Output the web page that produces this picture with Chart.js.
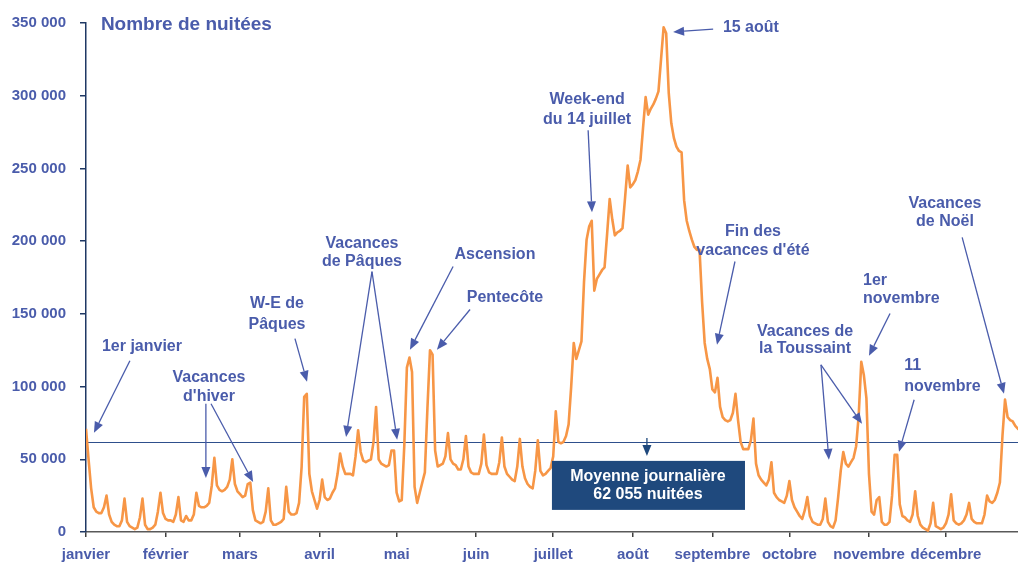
<!DOCTYPE html>
<html lang="fr">
<head>
<meta charset="utf-8">
<title>Nombre de nuitées</title>
<script src="https://cdn.jsdelivr.net/npm/chart.js@4.4.1/dist/chart.umd.min.js"></script>
<style>
  html, body { margin: 0; padding: 0; overflow: hidden; background: #fff; }
  #wrap { width: 1018px; height: 562px; overflow: hidden; }
</style>
</head>
<body>
<div id="wrap"><canvas id="chart" width="1030" height="562"></canvas></div>
<script>
// month labels and the day index (2016, leap year) where each month starts
const monthNames = ['janvier', 'février', 'mars', 'avril', 'mai', 'juin', 'juillet', 'août', 'septembre', 'octobre', 'novembre', 'décembre'];
const monthStarts = [0, 31, 60, 91, 121, 152, 182, 213, 244, 274, 305, 335];

// daily nuitées, one value per day
const janvier = [71000, 50000, 30000, 17000, 14000, 13000, 13000, 17000, 25000, 12000, 7000, 5000, 4000, 4000, 8000, 23000, 7000, 4000, 3000, 2000, 3000, 10000, 23000, 5000, 2000, 2000, 3000, 5000, 14000, 27000, 13000];
const fevrier = [9000, 8000, 8000, 7000, 12000, 24000, 8000, 7000, 11000, 8000, 8000, 12000, 27000, 18000, 17000, 17000, 18000, 20000, 32000, 51000, 32000, 29000, 28000, 29000, 31000, 36000, 50000, 33000, 28000];
const mars = [26000, 24000, 25000, 33000, 34000, 15000, 8000, 7000, 6000, 7000, 14000, 30000, 8000, 5000, 5000, 6000, 7000, 9000, 31000, 14000, 12000, 12000, 13000, 20000, 45000, 93000, 95000, 40000, 28000, 22000, 16000];
const avril = [22000, 36000, 24000, 22000, 23000, 27000, 30000, 40000, 54000, 45000, 40000, 40000, 40000, 39000, 52000, 70000, 55000, 49000, 48000, 49000, 50000, 62000, 86000, 50000, 47000, 46000, 45000, 46000, 56000, 56000];
const mai = [27000, 21000, 22000, 60000, 113000, 120000, 110000, 31000, 20000, 27000, 34000, 41000, 85000, 125000, 122000, 56000, 45000, 46000, 47000, 52000, 68000, 50000, 47000, 46000, 43000, 43000, 50000, 66000, 45000, 41000, 40000];
const juin = [40000, 40000, 47000, 67000, 46000, 41000, 40000, 40000, 40000, 48000, 65000, 45000, 40000, 38000, 36000, 35000, 45000, 64000, 45000, 37000, 33000, 31000, 30000, 42000, 63000, 42000, 39000, 40000, 42000, 44000];
const juillet = [52000, 83000, 62000, 61000, 62000, 66000, 74000, 100000, 130000, 119000, 125000, 131000, 172000, 201000, 210000, 214000, 166000, 174000, 177000, 180000, 182000, 205000, 229000, 215000, 204000, 206000, 207000, 209000, 230000, 252000, 237000];
const aout = [239000, 242000, 248000, 256000, 278000, 299000, 287000, 291000, 294000, 298000, 303000, 325000, 347000, 343000, 302000, 281000, 271000, 265000, 262000, 261000, 228000, 214000, 207000, 201000, 196000, 194000, 194000, 158000, 130000, 119000, 112000];
const septembre = [98000, 96000, 106000, 86000, 79000, 77000, 76000, 77000, 82000, 95000, 77000, 62000, 57000, 57000, 57000, 63000, 78000, 47000, 39000, 36000, 34000, 32000, 36000, 48000, 27000, 24000, 22000, 21000, 20000, 25000];
const octobre = [35000, 22000, 17000, 14000, 11000, 9000, 15000, 24000, 11000, 7000, 6000, 5000, 5000, 9000, 23000, 7000, 4000, 3000, 8000, 24000, 42000, 55000, 47000, 45000, 48000, 51000, 59000, 80000, 117000, 108000, 92000];
const novembre = [40000, 14000, 12000, 22000, 24000, 7000, 5000, 5000, 7000, 25000, 53000, 53000, 19000, 11000, 10000, 8000, 7000, 12000, 28000, 11000, 5000, 3000, 2000, 1000, 6000, 20000, 4000, 3000, 2000, 3000];
const decembre = [6000, 12000, 26000, 8000, 6000, 5000, 6000, 8000, 12000, 20000, 9000, 7000, 6000, 6000, 6000, 12000, 25000, 21000, 20000, 22000, 27000, 34000, 66000, 91000, 79000, 77000, 76000, 73000, 71000, 70000, 68000];

const nuitees = [].concat(janvier, fevrier, mars, avril, mai, juin, juillet, aout, septembre, octobre, novembre, decembre);
const moyenne = 62055;
const yTicks = [0, 50000, 100000, 150000, 200000, 250000, 300000, 350000];

// annotations: text lines and arrows, placed in (day, value) units
const notes = [
    { align: 'center', lines: [['1er janvier', 21.8, 127500]], arrows: [[17.1, 117800, 3.1, 68200]] },
    { align: 'center', lines: [['Vacances', 47.9, 106100], ["d'hiver", 47.9, 93000]], arrows: [[46.7, 88200, 46.7, 37200], [48.7, 88200, 65.1, 34400]] },
    { align: 'center', lines: [['W-E de', 74.4, 157000], ['Pâques', 74.4, 142600]], arrows: [[81.4, 133000, 86.1, 103300]] },
    { align: 'center', lines: [['Vacances', 107.5, 198400], ['de Pâques', 107.5, 186000]], arrows: [[111.4, 179000, 101.3, 65400], [111.4, 179000, 121.2, 63400]] },
    { align: 'center', lines: [['Ascension', 159.3, 190800]], arrows: [[143, 182600, 126.2, 125400]] },
    { align: 'center', lines: [['Pentecôte', 163.2, 161200]], arrows: [[149.6, 153000, 136.7, 125400]] },
    { align: 'center', lines: [['Week-end', 195.2, 297000], ['du 14 juillet', 195.2, 283900]], arrows: [[195.6, 276300, 197.1, 219800]] },
    { align: 'center', lines: [['15 août', 259, 346500]], arrows: [[244.3, 345800, 228.7, 343800]] },
    { align: 'center', lines: [['Fin des', 259.8, 206700], ["vacances d'été", 259.8, 193600]], arrows: [[252.8, 186000, 245.8, 128800]] },
    { align: 'center', lines: [['Vacances de', 280.1, 137800], ['la Toussaint', 280.1, 126000]], arrows: [[286.3, 115000, 289.4, 49600], [286.3, 115000, 302.3, 74400]] },
    { align: 'left', lines: [['1er', 302.7, 172900], ['novembre', 302.7, 160500]], arrows: [[313.2, 150200, 305, 121200]] },
    { align: 'left', lines: [['11', 318.7, 114400], ['novembre', 318.7, 99900]], arrows: [[322.6, 90900, 316.7, 55100]] },
    { align: 'center', lines: [['Vacances', 334.6, 226000], ['de Noël', 334.6, 213600]], arrows: [[341.3, 202600, 357.6, 95000]] }
];
const titre = ['Nombre de nuitées', 5.8, 349000];
const encadre = { x0: 181.5, x1: 256.7, y0: 48900, y1: 15200, lines: [['Moyenne journalière', 218.9, 37900], ['62 055 nuitées', 218.9, 25500]], arrow: [218.5, 64700, 218.5, 52300] };

const BLUE = '#4A5CAB';
const NAVY = '#1F497D';
const FONT = '"Liberation Sans", Arial, sans-serif';

function fmt(v) {
    return String(v).replace(/\B(?=(\d{3})+(?!\d))/g, ' ');
}

function drawArrow(ctx, x1, y1, x2, y2, color) {
    const ang = Math.atan2(y2 - y1, x2 - x1);
    const head = 11, half = 4.5;
    const bx = x2 - head * Math.cos(ang), by = y2 - head * Math.sin(ang);
    ctx.strokeStyle = color;
    ctx.fillStyle = color;
    ctx.lineWidth = 1.3;
    ctx.beginPath();
    ctx.moveTo(x1, y1);
    ctx.lineTo(bx, by);
    ctx.stroke();
    ctx.beginPath();
    ctx.moveTo(x2, y2);
    ctx.lineTo(bx + half * Math.sin(ang), by - half * Math.cos(ang));
    ctx.lineTo(bx - half * Math.sin(ang), by + half * Math.cos(ang));
    ctx.closePath();
    ctx.fill();
}

const decorPlugin = {
    id: 'decor',
    beforeDatasetsDraw(chart) {
        // horizontal line for the daily average
        const { ctx, chartArea, scales: { y } } = chart;
        const py = Math.round(y.getPixelForValue(moyenne)) + 0.5;
        ctx.save();
        ctx.strokeStyle = '#2E4F8C';
        ctx.lineWidth = 1.2;
        ctx.beginPath();
        ctx.moveTo(chartArea.left, py);
        ctx.lineTo(chartArea.right, py);
        ctx.stroke();
        ctx.restore();
    },
    afterDatasetsDraw(chart) {
        const { ctx, scales: { x, y } } = chart;
        const px = d => x.getPixelForValue(d);
        const py = v => y.getPixelForValue(v);
        ctx.save();
        ctx.textBaseline = 'middle';

        // title
        ctx.fillStyle = BLUE;
        ctx.font = 'bold 19px ' + FONT;
        ctx.textAlign = 'left';
        ctx.fillText(titre[0], px(titre[1]), py(titre[2]));

        // annotations
        ctx.font = 'bold 16px ' + FONT;
        notes.forEach(n => {
            ctx.fillStyle = BLUE;
            ctx.textAlign = n.align;
            n.lines.forEach(l => ctx.fillText(l[0], px(l[1]), py(l[2])));
            n.arrows.forEach(a => drawArrow(ctx, px(a[0]), py(a[1]), px(a[2]), py(a[3]), BLUE));
        });

        // average box
        const bx0 = px(encadre.x0), bx1 = px(encadre.x1);
        const by0 = py(encadre.y0), by1 = py(encadre.y1);
        ctx.fillStyle = NAVY;
        ctx.fillRect(bx0, by0, bx1 - bx0, by1 - by0);
        ctx.fillStyle = '#FFFFFF';
        ctx.textAlign = 'center';
        ctx.font = 'bold 16px ' + FONT;
        encadre.lines.forEach(l => ctx.fillText(l[0], px(l[1]), py(l[2])));
        const a = encadre.arrow;
        drawArrow(ctx, px(a[0]), py(a[1]), px(a[2]), py(a[3]), NAVY);
        ctx.restore();
    }
};

const ctx = document.getElementById('chart').getContext('2d');
new Chart(ctx, {
    type: 'line',
    data: {
        datasets: [{
            data: nuitees.map((v, i) => ({ x: i, y: v })),
            borderColor: '#F79646',
            borderWidth: 2.6,
            borderJoinStyle: 'round',
            pointRadius: 0,
            tension: 0,
            fill: false
        }]
    },
    options: {
        responsive: false,
        animation: false,
        events: [],
        layout: { padding: { top: 23, right: 7, left: 0, bottom: 0 } },
        plugins: { legend: { display: false }, tooltip: { enabled: false } },
        scales: {
            x: {
                type: 'linear',
                min: 0,
                max: 365,
                afterBuildTicks: s => { s.ticks = monthStarts.map(v => ({ value: v })); },
                afterFit: s => { s.height = 30; },
                ticks: {
                    autoSkip: false,
                    maxRotation: 0,
                    padding: 9,
                    color: BLUE,
                    font: { family: FONT, size: 15, weight: 'bold' },
                    callback: v => monthNames[monthStarts.indexOf(v)]
                },
                grid: { drawOnChartArea: false, drawTicks: true, tickLength: 5, color: '#404040', lineWidth: 1.5 },
                border: { color: '#595959', width: 1.5 }
            },
            y: {
                min: 0,
                max: 350000,
                afterBuildTicks: s => { s.ticks = yTicks.map(v => ({ value: v })); },
                afterFit: s => { s.width = 86; },
                ticks: {
                    padding: 14,
                    color: BLUE,
                    font: { family: FONT, size: 15, weight: 'bold' },
                    callback: v => fmt(v)
                },
                grid: { drawOnChartArea: false, drawTicks: true, tickLength: 6, color: '#1F3864', lineWidth: 1.5 },
                border: { color: '#1F3864', width: 1.5 }
            }
        }
    },
    plugins: [decorPlugin]
});
</script>
</body>
</html>
